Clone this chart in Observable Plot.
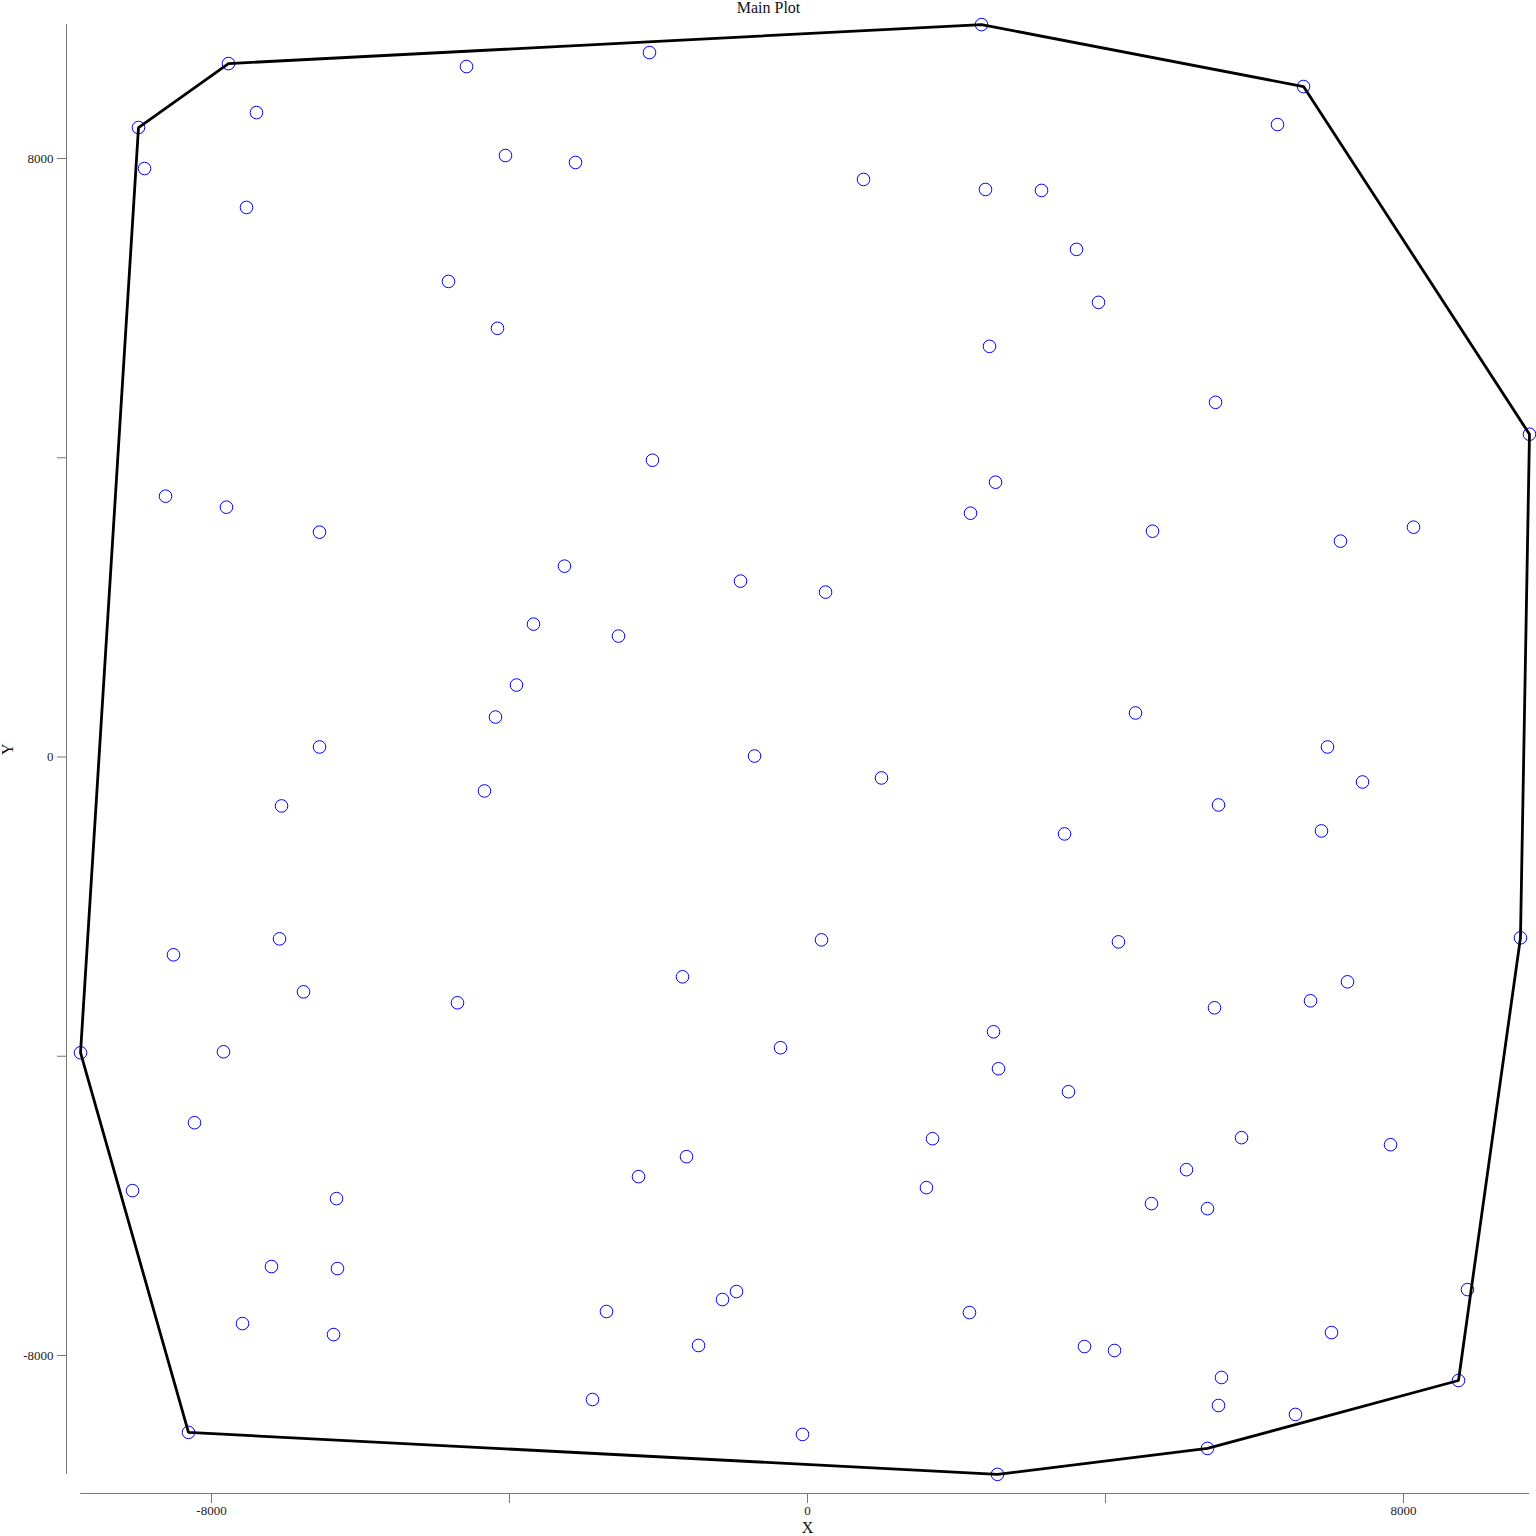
<!DOCTYPE html>
<html><head><meta charset="utf-8">
<script src="https://cdn.jsdelivr.net/npm/d3@7"></script>
<script src="https://cdn.jsdelivr.net/npm/@observablehq/plot@0.6"></script>
<style>
body{margin:0;background:#fff} svg{display:block}
g[aria-label="x-axis tick label"], g[aria-label="y-axis tick label"] { font-size: 13px !important; }
g[aria-label="x-axis tick label"] text, g[aria-label="y-axis tick label"] text { font-size: 13px !important; }
</style>
</head><body><div id="chart"></div>
<script>
const xValues = [2336, 6658, 9691, 9570, 8738, 5369, 2550, -8309, -9758, -8980, -7772,
  -4577, -2121, -7396, -8899, -4054, -3114, -7530, 752, 2389, 3141, 3611, -4819, 3906, -4161,
  2443, 6309, 5477, -2081, 2524, -8617, -7799, -6550, 2188, 4631, 8134, 7154, -3262, -899, 242,
  -3678, -2537, -3906, -4188, 4403, -6550, -711, 6980, 993, 7450, -4336, -7060, 5517, 3450, 6899,
  -7087, 188, 4174, -8510, -1678, 7248, -6765, -4698, 6752, 5463, 2497, -7839, -362, 2564, 3503,
  -8228, 1678, 5826, 7826, -1624, 5087, -2268, 1597, -9060, -6322, 4617, 5369, -7195, -6309, 8859,
  -953, -1141, -2698, 2174, -7584, 7034, -6362, -1463, 3718, 4121, 5557, -2886, 5517, 6550, -67];
const yValues = [9790, 8962, 4314, -2417, -8334, -9242, -9589, -9028, -3953, 8414, 9269,
  9229, 9416, 8614, 7866, 8040, 7947, 7346, 7720, 7586, 7573, 6785, 6357, 6077, 5730,
  5489, 8454, 4741, 3967, 3673, 3486, 3339, 3005, 3259, 3018, 3072, 2885, 2551, 2351, 2204,
  1776, 1616, 962, 534, 588, 134, 13, 134, -280, -334, -454, -654, -641, -1028, -988,
  -2431, -2444, -2471, -2644, -2938, -3005, -3139, -3285, -3259, -3352, -3673, -3940, -3886, -4167, -4474,
  -4888, -5102, -5088, -5182, -5342, -5516, -5609, -5756, -5796, -5903, -5970, -6037, -6811, -6838, -7119,
  -7145, -7252, -7412, -7426, -7573, -7693, -7720, -7866, -7880, -7933, -8294, -8588, -8668, -8788, -9055];
const xTicks = [-8000, -4000, 0, 4000, 8000];
const yTicks = [-8000, -4000, 0, 4000, 8000];
const labeledTicks = [-8000, 0, 8000];
const titleText = "Main Plot";
const xLabel = "X";
const yLabel = "Y";

const data = xValues.map((x, i) => ({x, y: yValues[i]}));
const axisColor = "#777";
const textColor = "#222";
const fmt = d => labeledTicks.includes(d) ? String(d) : "";

// range-frame axis lines spanning the data extent
const rangeFrame = (index, scales, values, dims) => {
  const g = d3.create("svg:g").attr("stroke", axisColor).attr("stroke-width", 1);
  const [x0, x1] = d3.extent(xValues);
  const [y0, y1] = d3.extent(yValues);
  const by = dims.height - dims.marginBottom + 0.5;
  const lx = dims.marginLeft - 0.5;
  g.append("line").attr("x1", scales.x(x0)).attr("x2", scales.x(x1)).attr("y1", by).attr("y2", by);
  g.append("line").attr("x1", lx).attr("x2", lx).attr("y1", scales.y(y0)).attr("y2", scales.y(y1));
  return g.node();
};

const plot = Plot.plot({
  width: 1536, height: 1536,
  marginLeft: 67, marginRight: 2, marginTop: 20, marginBottom: 43,
  style: {fontFamily: "'Liberation Serif', 'DejaVu Serif', serif", fontSize: "13px", background: "#fff", color: textColor},
  x: {domain: [-8000, 8000], range: [211, 1403]},
  y: {domain: [-8000, 8000], range: [1355, 158]},
  marks: [
    Plot.dot(data, {x: "x", y: "y", r: 6.3, stroke: "blue", strokeWidth: 1, fill: "none"}),
    Plot.hull(data, {x: "x", y: "y", stroke: "black", strokeWidth: 2.8}),
    rangeFrame,
    Plot.axisX(xTicks, {tickSize: 10, tickPadding: 2, tickFormat: fmt, stroke: axisColor, fill: textColor, fontSize: 13, label: null}),
    Plot.axisY(yTicks, {tickSize: 10, tickPadding: 4, tickFormat: fmt, stroke: axisColor, fill: textColor, fontSize: 13, label: null}),
    Plot.text([titleText], {frameAnchor: "top", dx: -32.5, dy: -18.5, fontSize: 16, fill: "#111"}),
    Plot.text([xLabel], {frameAnchor: "bottom", dx: 6.5, dy: 39, fontSize: 16, fill: "#111"}),
    Plot.text([yLabel], {frameAnchor: "left", dx: -59.5, dy: -2, rotate: -90, fontSize: 16, fill: "#111"})
  ]
});
document.getElementById("chart").appendChild(plot);
</script>
</body></html>
